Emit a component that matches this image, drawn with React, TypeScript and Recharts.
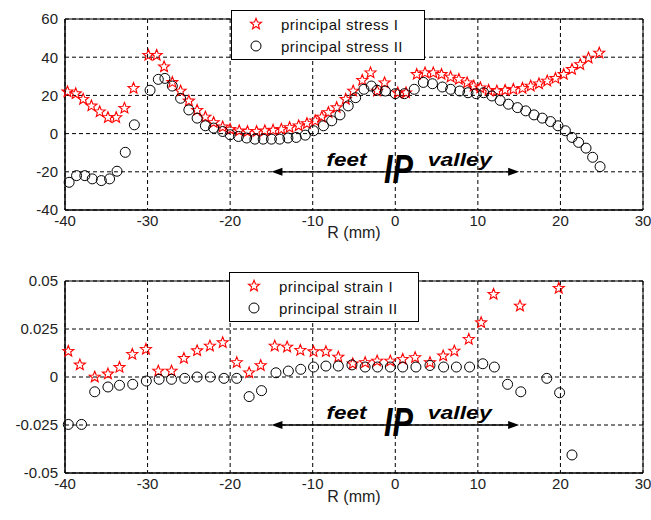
import React from "react";
import {
  ScatterChart,
  Scatter,
  XAxis,
  YAxis,
  CartesianGrid,
  ReferenceArea,
  ReferenceLine,
  ReferenceDot,
} from "recharts";

const FONT = "'Liberation Sans', Arial, sans-serif";

const rTicks = [-40, -30, -20, -10, 0, 10, 20, 30];
const stressTicks = [-40, -20, 0, 20, 40, 60];
const strainTicks = [-0.05, -0.025, 0, 0.025, 0.05];

// principal stress I (red stars)
const stressIR = [
  -39.7, -38.7, -37.8, -36.8, -35.8, -34.8, -33.8, -32.8, -31.7, -29.9, -28.9,
  -28.0, -27.0, -26.0, -25.0, -24.0, -23.0, -22.0, -20.9, -20.0, -18.9, -17.9,
  -16.8, -15.8, -14.8, -13.8, -12.8, -11.7, -10.7, -9.7, -8.9, -8.1, -7.1,
  -6.0, -5.1, -4.0, -3.0, -2.2, -1.3, 0.3, 1.3, 2.6, 3.6, 4.6, 5.6, 6.7, 7.7,
  8.7, 9.5, 10.3, 11.3, 12.3, 13.3, 14.3, 15.4, 16.4, 17.4, 18.4, 19.4, 20.4,
  21.4, 22.4, 23.4, 24.7,
];
const stressI = [
  21.9, 20.9, 18, 14.5, 11.4, 8.4, 8.4, 13.3, 23.7, 41, 41, 35, 26.8, 22.3,
  17.1, 12.2, 8.7, 5.8, 3.5, 2.3, 1.5, 1.1, 1.1, 1.5, 1.8, 2.3, 3.2, 4.1, 5.3,
  6.7, 8.7, 11, 13.6, 18, 22.3, 27.9, 31.8, 22.3, 26.6, 21.4, 21.4, 31, 31.8,
  31.8, 31, 29.6, 28.4, 26.6, 24.9, 24, 22.7, 22.3, 22.7, 23.2, 23.7, 24.9,
  26.1, 27.5, 28.9, 31, 33.6, 36.2, 39.6, 42.2,
];

// principal stress II (black circles)
const stressIIR = [
  -39.5, -38.6, -37.6, -36.7, -35.6, -34.6, -33.7, -32.7, -31.6, -29.7, -28.7,
  -27.9, -27.0, -26.0, -25.0, -24.0, -23.0, -22.0, -20.9, -20.0, -19.0, -18.0,
  -17.0, -16.0, -15.0, -14.0, -13.0, -12.0, -10.9, -9.9, -8.7, -7.7, -6.7,
  -5.7, -4.8, -3.8, -2.9, -2.2, -1.2, 0, 1.1, 2.3, 3.4, 4.5, 5.7, 6.7, 7.8,
  8.8, 9.8, 10.7, 11.7, 12.7, 13.7, 14.8, 15.8, 16.8, 17.8, 18.8, 19.7, 20.6,
  21.4, 22.2, 23.1, 23.9, 24.8,
];
const stressII = [
  -25.5, -22, -22, -23.7, -24.6, -23.7, -19.7, -9.8, 4.6, 22.7, 28.4, 28.9,
  24.9, 18.5, 12.4, 8.1, 4.1, 2.9, 1.1, -0.6, -1.5, -2.3, -2.9, -2.9, -2.9,
  -2.9, -2.3, -2.0, -0.8, 1.5, 4.1, 6.7, 9.8, 14.5, 18.8, 23.2, 24.9, 22.7,
  22.3, 20.9, 20.9, 23.2, 26.8, 26.1, 24.4, 23.2, 22.3, 21.4, 20.9, 21.4, 19.7,
  17.4, 15.4, 13.6, 11.9, 9.8, 8.1, 6.3, 4.1, 1.5, -2.0, -4.6, -7.6, -12.4,
  -17.3,
];

// principal strain I (red stars)
const strainIR = [
  -39.6, -38.2, -36.4, -34.8, -33.4, -31.85, -30.2, -28.7, -27.1, -25.6, -24.0,
  -22.45, -20.9, -19.2, -17.7, -16.3, -14.6, -13.1, -11.5, -9.9, -8.4, -6.9,
  -5.15, -3.65, -2.2, -0.6, 0.9, 2.4, 4.2, 5.8, 7.15, 8.9, 10.4, 11.9, 15.1,
  19.8,
];
const strainI = [
  0.0134, 0.0063, 0, 0.0016, 0.005, 0.0118, 0.0144, 0.0031, 0.0031, 0.0097,
  0.0137, 0.0161, 0.0179, 0.0075, 0.0022, 0.006, 0.0161, 0.0156, 0.0139,
  0.0132, 0.0132, 0.0104, 0.0069, 0.0075, 0.0083, 0.0083, 0.0092, 0.0101,
  0.0075, 0.011, 0.0135, 0.0196, 0.0283, 0.0431, 0.037, 0.0462,
];

// principal strain II (black circles)
const strainIIR = [
  -39.6, -38.0, -36.4, -34.8, -33.4, -31.8, -30.15, -28.6, -27.1, -25.5, -24.0,
  -22.4, -20.75, -19.2, -17.7, -16.2, -14.45, -12.95, -11.45, -9.9, -8.4, -6.9,
  -5.25, -3.65, -2.15, -0.6, 0.9, 2.5, 4.2, 5.85, 7.4, 9.0, 10.6, 12.0, 13.6,
  15.2, 18.35, 19.9, 21.4,
];
const strainII = [
  -0.0247, -0.0247, -0.0077, -0.0052, -0.0043, -0.0038, -0.0021, -0.0012,
  -0.0012, -0.0007, 0, 0, -0.0007, -0.0007, -0.0102, -0.0071, 0.0022, 0.0031,
  0.004, 0.0052, 0.0057, 0.0057, 0.0063, 0.0052, 0.0052, 0.0052, 0.0052,
  0.0052, 0.006, 0.0052, 0.0052, 0.0052, 0.0069, 0.0052, -0.0038, -0.0077,
  -0.0007, -0.0082, -0.0406,
];

const zip = (xs: number[], ys: number[]) => xs.map((r, i) => ({ r, v: ys[i] }));

const starPoints = (cx: number, cy: number, ro: number, ri: number) => {
  const pts: string[] = [];
  for (let i = 0; i < 10; i++) {
    const rad = i % 2 === 0 ? ro : ri;
    const a = -Math.PI / 2 + (i * Math.PI) / 5;
    pts.push(`${cx + rad * Math.cos(a)},${cy + rad * Math.sin(a)}`);
  }
  return pts.join(" ");
};

const Star = (props: any) => {
  const { cx, cy } = props;
  if (cx == null || cy == null) return <g />;
  return (
    <polygon
      points={starPoints(cx, cy, 5.8, 2.5)}
      fill="none"
      stroke="#ff0000"
      strokeWidth={1.1}
    />
  );
};

const Ring = (props: any) => {
  const { cx, cy } = props;
  if (cx == null || cy == null) return <g />;
  return <circle cx={cx} cy={cy} r={5} fill="none" stroke="#000" strokeWidth={1} />;
};

const ArrowLine = (props: any) => {
  const { x1, y1, x2, y2 } = props;
  return (
    <g>
      <line x1={x1 + 6} y1={y1} x2={x2 - 6} y2={y2} stroke="#000" strokeWidth={1.3} />
      <polygon points={`${x1},${y1} ${x1 + 11},${y1 - 4} ${x1 + 11},${y1 + 4}`} fill="#000" />
      <polygon points={`${x2},${y2} ${x2 - 11},${y2 - 4} ${x2 - 11},${y2 + 4}`} fill="#000" />
    </g>
  );
};

const makeLabel =
  (text: string, dy: number, size: number, width: number) => (props: any) => {
    const { cx, cy } = props;
    return (
      <text
        x={cx}
        y={cy + dy}
        textAnchor="middle"
        fontFamily={FONT}
        fontStyle="italic"
        fontWeight="bold"
        fontSize={size}
        fill="#000"
        textLength={width}
        lengthAdjust="spacingAndGlyphs"
      >
        {text}
      </text>
    );
  };

const feetShape = makeLabel("feet", -6, 19, 40);
const valleyShape = makeLabel("valley", -6, 19, 64);
const ipShape = makeLabel("IP", 11, 40, 29);

const tickStyle = { fill: "#222", fontSize: 15, fontFamily: FONT };

const Legend = ({ left, top, width, labels }: any) => (
  <div
    style={{
      position: "absolute",
      left,
      top,
      width,
      height: 48,
      border: "1px solid #000",
      background: "#fff",
      fontFamily: FONT,
      fontSize: 15,
      letterSpacing: 0.5,
      color: "#111",
    }}
  >
    <div style={{ position: "absolute", left: 14, top: 3, height: 20, display: "flex", alignItems: "center" }}>
      <svg width={20} height={20}>
        <polygon points={starPoints(10, 10, 5.8, 2.5)} fill="none" stroke="#ff0000" strokeWidth={1.1} />
      </svg>
      <span style={{ marginLeft: 15 }}>{labels[0]}</span>
    </div>
    <div style={{ position: "absolute", left: 14, top: 25, height: 20, display: "flex", alignItems: "center" }}>
      <svg width={20} height={20}>
        <circle cx={10} cy={10} r={5} fill="none" stroke="#000" />
      </svg>
      <span style={{ marginLeft: 15 }}>{labels[1]}</span>
    </div>
  </div>
);

interface PanelProps {
  top: number;
  marginTop: number;
  axisHeight: number;
  labelOffset: number;
  yDomain: [number, number];
  yTicks: number[];
  arrowY: number;
  series1: { r: number; v: number }[];
  series2: { r: number; v: number }[];
}

const Panel = ({ top, marginTop, axisHeight, labelOffset, yDomain, yTicks, arrowY, series1, series2 }: PanelProps) => (
  <div style={{ position: "absolute", left: 0, top }}>
    <ScatterChart
      width={651}
      height={260}
      margin={{ top: marginTop, right: 8, bottom: 0, left: 0 }}
      style={{ fontFamily: FONT }}
    >
      <CartesianGrid stroke="#000" strokeDasharray="4 3" />
      <XAxis
        type="number"
        dataKey="r"
        domain={[-40, 30]}
        ticks={rTicks}
        interval={0}
        height={axisHeight}
        tickLine={false}
        tickSize={4}
        tickMargin={1}
        axisLine={{ stroke: "#000" }}
        tick={tickStyle}
        label={{ value: "R (mm)", position: "insideBottom", offset: labelOffset, fill: "#222", fontSize: 16, fontFamily: FONT }}
      />
      <YAxis
        type="number"
        dataKey="v"
        domain={yDomain}
        ticks={yTicks}
        interval={0}
        width={65}
        tickLine={false}
        tickSize={5}
        tickMargin={2}
        axisLine={{ stroke: "#000" }}
        tick={tickStyle}
      />
      <ReferenceArea x1={-40} x2={30} y1={yDomain[0]} y2={yDomain[1]} fill="none" stroke="#000" strokeWidth={1} />
      <Scatter data={series1} shape={Star} isAnimationActive={false} />
      <Scatter data={series2} shape={Ring} isAnimationActive={false} />
      <ReferenceLine segment={[{ x: -15, y: arrowY }, { x: 15, y: arrowY }]} shape={ArrowLine} />
      <ReferenceDot x={-5.9} y={arrowY} r={0} shape={feetShape} />
      <ReferenceDot x={7.8} y={arrowY} r={0} shape={valleyShape} />
      <ReferenceDot x={0.4} y={arrowY} r={0} shape={ipShape} />
    </ScatterChart>
  </div>
);

export default function App() {
  return (
    <div style={{ position: "absolute", left: 0, top: 0, width: 651, height: 520, background: "#fff" }}>
      <Panel
        top={0}
        marginTop={19}
        axisHeight={50}
        labelOffset={22}
        yDomain={[-40, 60]}
        yTicks={stressTicks}
        arrowY={-20}
        series1={zip(stressIR, stressI)}
        series2={zip(stressIIR, stressII)}
      />
      <Legend left={231} top={10} width={192} labels={["principal stress I", "principal stress II"]} />
      <Panel
        top={260}
        marginTop={21}
        axisHeight={47}
        labelOffset={18}
        yDomain={[-0.05, 0.05]}
        yTicks={strainTicks}
        arrowY={-0.025}
        series1={zip(strainIR, strainI)}
        series2={zip(strainIIR, strainII)}
      />
      <Legend left={229} top={272} width={188} labels={["principal strain I", "principal strain II"]} />
    </div>
  );
}
